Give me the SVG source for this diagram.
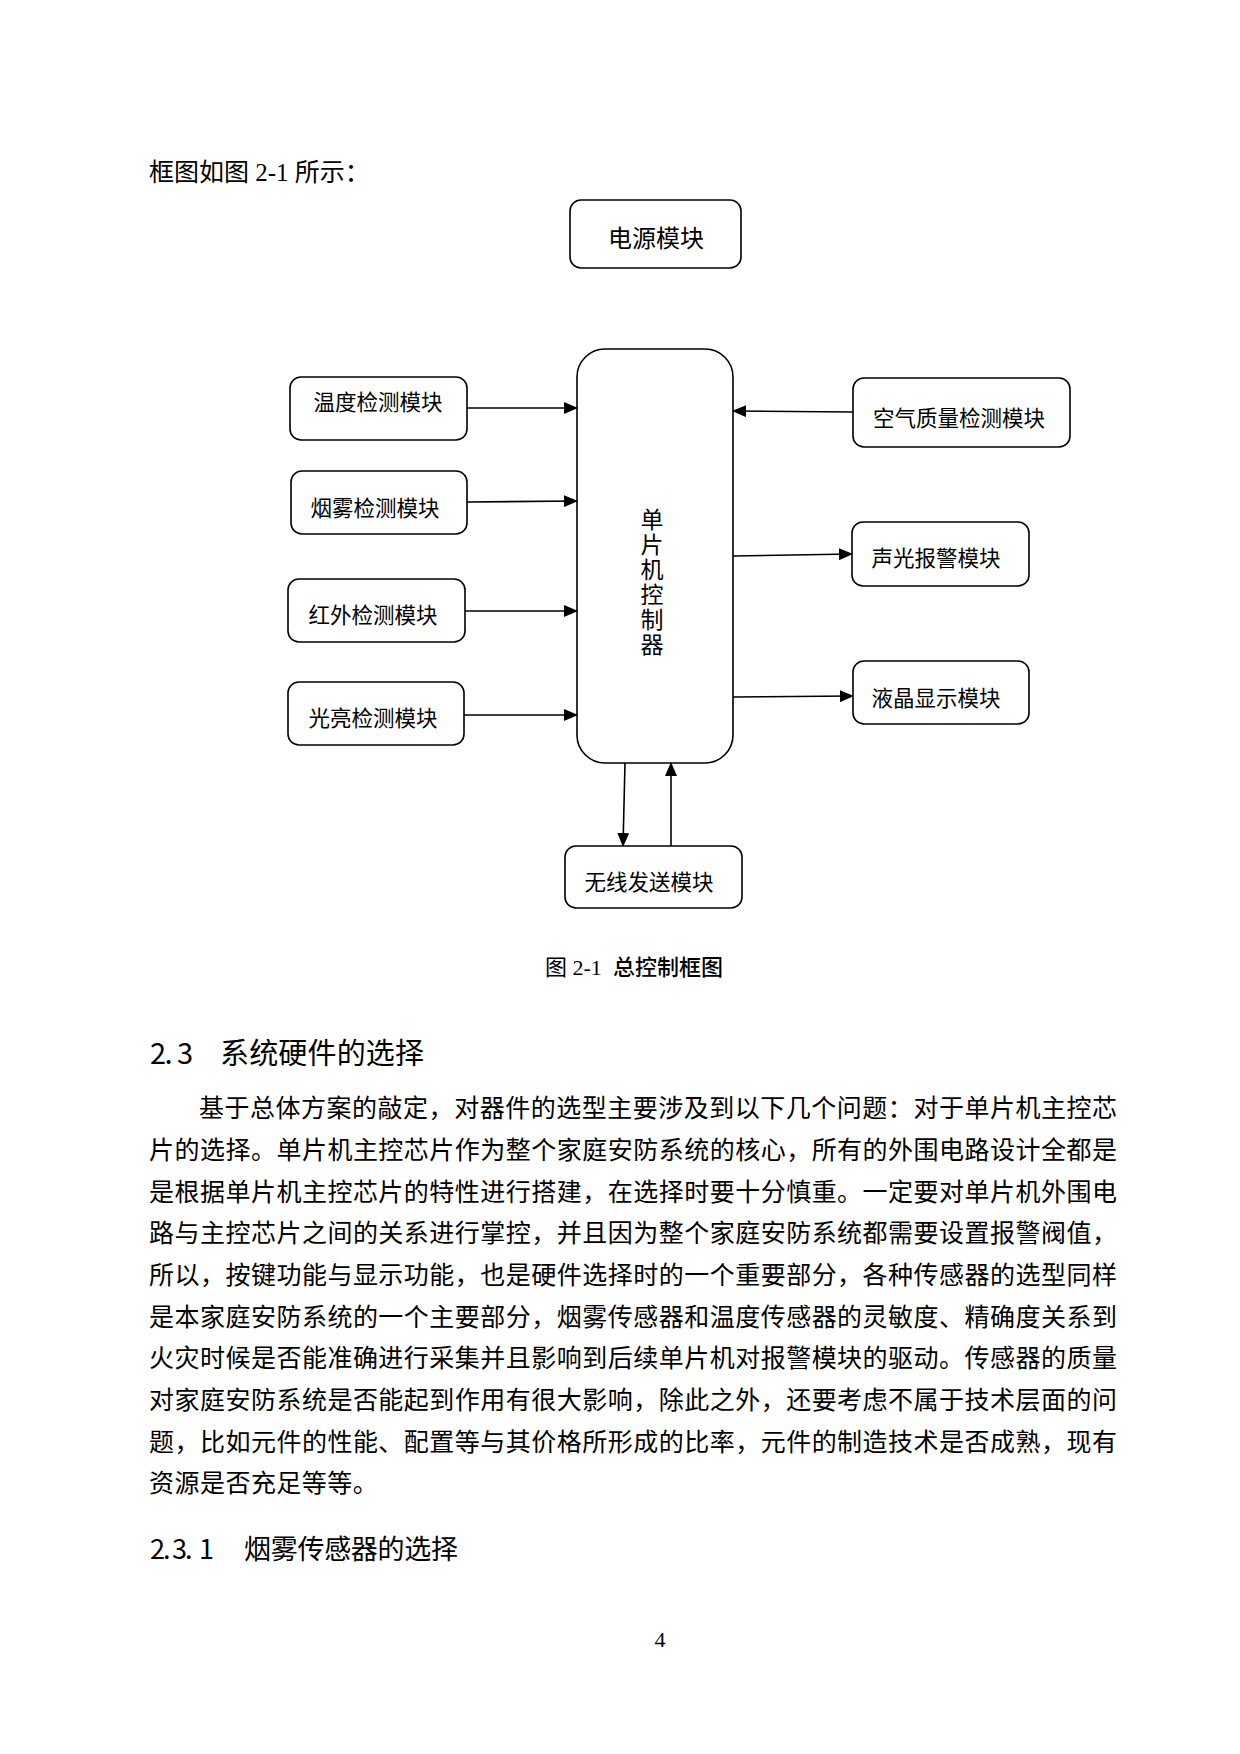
<svg xmlns="http://www.w3.org/2000/svg" width="1240" height="1754" viewBox="0 0 1240 1754">
<style>
.bg{fill:#ffffff}
.box{fill:#ffffff;stroke:#000000;stroke-width:1.6}
.lbl{font-family:"Noto Sans CJK SC","Noto Sans",sans-serif;font-size:21.5px;fill:#000000;text-anchor:middle}
.lbl24{font-family:"Noto Sans CJK SC","Noto Sans",sans-serif;font-size:24px;fill:#000000;text-anchor:middle}
.vert{font-family:"Noto Sans CJK SC","Noto Sans",sans-serif;font-size:23px;fill:#000000;writing-mode:vertical-rl;letter-spacing:2px}
.wire{fill:none;stroke:#000000;stroke-width:1.6}
.body{font-family:"Noto Sans CJK SC","Noto Sans",sans-serif;font-size:25px;fill:#000000}
.serif{font-family:"Liberation Serif","Noto Sans CJK SC",serif;fill:#000000}
.h{font-family:"Noto Sans CJK SC","Liberation Sans",sans-serif;fill:#000000}
</style>
<defs>
<marker id="arr" markerUnits="userSpaceOnUse" markerWidth="14" markerHeight="12" viewBox="0 0 14 12" refX="13" refY="6" orient="auto">
<path d="M0,0 L14,6 L0,12 Z" fill="#000000"/>
</marker>
</defs>
<rect class="bg" x="0" y="0" width="1240" height="1754"/>

<text class="serif" x="149" y="181" font-size="25">框图如图 2-1 所示：</text>

<g id="power">
<rect class="box" x="570" y="200" width="171" height="68" rx="11"/>
<text class="lbl24" x="656" y="247">电源模块</text>
</g>

<g id="mcu">
<rect class="box" x="577" y="349" width="156" height="414" rx="28"/>
<text class="vert" x="652" y="508">单片机控制器</text>
</g>

<g id="temp">
<rect class="box" x="290" y="377" width="177" height="63" rx="11"/>
<text class="lbl" x="378" y="410">温度检测模块</text>
</g>
<g id="smoke">
<rect class="box" x="291" y="471" width="176" height="63" rx="11"/>
<text class="lbl" x="375" y="516">烟雾检测模块</text>
</g>
<g id="ir">
<rect class="box" x="288" y="579" width="177" height="63" rx="11"/>
<text class="lbl" x="373" y="623">红外检测模块</text>
</g>
<g id="light">
<rect class="box" x="288" y="682" width="176" height="63" rx="11"/>
<text class="lbl" x="373" y="726">光亮检测模块</text>
</g>
<g id="air">
<rect class="box" x="853" y="378" width="217" height="69" rx="11"/>
<text class="lbl" x="959" y="426">空气质量检测模块</text>
</g>
<g id="alarm">
<rect class="box" x="852" y="522" width="177" height="64" rx="11"/>
<text class="lbl" x="936" y="566">声光报警模块</text>
</g>
<g id="lcd">
<rect class="box" x="853" y="661" width="176" height="63" rx="11"/>
<text class="lbl" x="936" y="706">液晶显示模块</text>
</g>
<g id="wireless">
<rect class="box" x="565" y="846" width="177" height="62" rx="11"/>
<text class="lbl" x="649" y="890">无线发送模块</text>
</g>

<g id="connectors">
<path class="wire" marker-end="url(#arr)" d="M467,408 L577,408"/>
<path class="wire" marker-end="url(#arr)" d="M467,502 L577,501"/>
<path class="wire" marker-end="url(#arr)" d="M465,611 L577,611"/>
<path class="wire" marker-end="url(#arr)" d="M464,715 L577,715"/>
<path class="wire" marker-end="url(#arr)" d="M853,412 L733,411"/>
<path class="wire" marker-end="url(#arr)" d="M733,556 L852,554"/>
<path class="wire" marker-end="url(#arr)" d="M733,697 L853,696"/>
<path class="wire" marker-end="url(#arr)" d="M625,763 L623,846"/>
<path class="wire" marker-end="url(#arr)" d="M671,846 L671,763"/>
</g>

<text x="545" y="975" font-size="22"><tspan class="serif">图 2-1</tspan><tspan class="h" x="613" font-weight="500">总控制框图</tspan></text>

<text class="h" font-size="29" x="150 164.5 177" y="1064">2.3</text>
<text class="h" font-size="29" x="220" y="1064" textLength="204" lengthAdjust="spacing">系统硬件的选择</text>

<text class="body" x="199" y="1117" textLength="918" lengthAdjust="spacing">基于总体方案的敲定，对器件的选型主要涉及到以下几个问题：对于单片机主控芯</text>
<text class="body" x="149" y="1159" textLength="968" lengthAdjust="spacing">片的选择。单片机主控芯片作为整个家庭安防系统的核心，所有的外围电路设计全都是</text>
<text class="body" x="149" y="1201" textLength="968" lengthAdjust="spacing">是根据单片机主控芯片的特性进行搭建，在选择时要十分慎重。一定要对单片机外围电</text>
<text class="body" x="149" y="1242" textLength="968" lengthAdjust="spacing">路与主控芯片之间的关系进行掌控，并且因为整个家庭安防系统都需要设置报警阀值，</text>
<text class="body" x="149" y="1284" textLength="968" lengthAdjust="spacing">所以，按键功能与显示功能，也是硬件选择时的一个重要部分，各种传感器的选型同样</text>
<text class="body" x="149" y="1326" textLength="968" lengthAdjust="spacing">是本家庭安防系统的一个主要部分，烟雾传感器和温度传感器的灵敏度、精确度关系到</text>
<text class="body" x="149" y="1367" textLength="968" lengthAdjust="spacing">火灾时候是否能准确进行采集并且影响到后续单片机对报警模块的驱动。传感器的质量</text>
<text class="body" x="149" y="1409" textLength="968" lengthAdjust="spacing">对家庭安防系统是否能起到作用有很大影响，除此之外，还要考虑不属于技术层面的问</text>
<text class="body" x="149" y="1451" textLength="968" lengthAdjust="spacing">题，比如元件的性能、配置等与其价格所形成的比率，元件的制造技术是否成熟，现有</text>
<text class="body" x="149" y="1492" letter-spacing="0.47">资源是否充足等等。</text>

<text class="h" font-size="27" x="150 163 172 185 199" y="1559">2.3.1</text>
<text class="h" font-size="27" x="244" y="1559" textLength="214" lengthAdjust="spacing">烟雾传感器的选择</text>

<text class="serif" x="660" y="1647" font-size="22" text-anchor="middle">4</text>
</svg>
